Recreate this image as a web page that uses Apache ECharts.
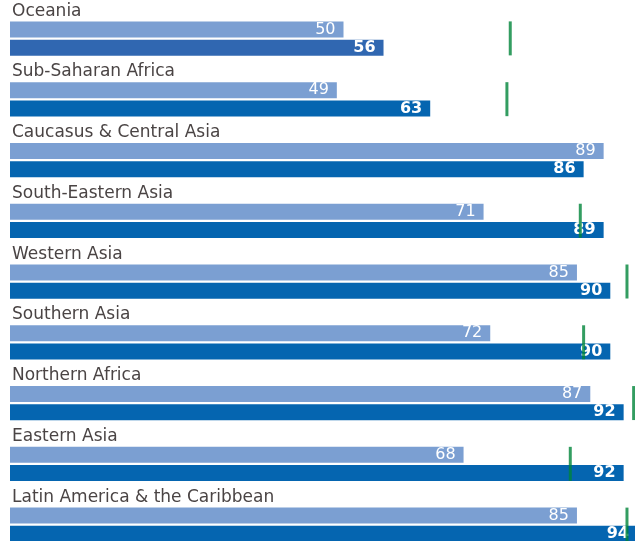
<!DOCTYPE html>
<html>
<head>
<meta charset="utf-8">
<script src="https://cdn.jsdelivr.net/npm/echarts@6/dist/echarts.min.js"></script>
<style>
  html, body { margin: 0; padding: 0; background: #fff; }
  #chart { width: 635px; height: 541px; }
</style>
</head>
<body>
<div id="chart"></div>
<script>
const regions = ['Oceania', 'Sub-Saharan Africa', 'Caucasus & Central Asia', 'South-Eastern Asia',
  'Western Asia', 'Southern Asia', 'Northern Africa', 'Eastern Asia', 'Latin America & the Caribbean'];
const values1990 = [50, 49, 89, 71, 85, 72, 87, 68, 85];
const values2008 = [56, 63, 86, 89, 90, 90, 92, 92, 94];
const targets = [75, 74.5, 94.5, 85.5, 92.5, 86, 93.5, 84, 92.5];

const chart = echarts.init(document.getElementById('chart'));

const valueLabel = {
  show: true,
  position: 'insideRight',
  distance: 8,
  color: '#fff',
  fontFamily: 'DejaVu Sans',
  fontSize: 16,
  fontWeight: 'bold'
};

chart.setOption({
  animation: false,
  // the plot runs past the right edge of the picture (0..100 over 667px)
  grid: { left: 10, width: 667, top: -1, height: 547, outerBoundsMode: 'none' },
  xAxis: { type: 'value', min: 0, max: 100, show: false },
  yAxis: { type: 'category', data: regions, inverse: true, show: false },
  series: [
    {
      // empty slot holding the region name
      name: 'names',
      type: 'bar',
      barWidth: 16,
      barGap: '14%',
      silent: true,
      data: regions.map(() => 0),
      itemStyle: { color: 'rgba(0,0,0,0)' },
      label: {
        show: true,
        position: 'right',
        distance: 2,
        formatter: '{b}',
        color: '#4a4444',
        fontFamily: 'DejaVu Sans',
        fontSize: 17
      }
    },
    {
      name: '1990',
      type: 'bar',
      barWidth: 16,
      barGap: '14%',
      data: values1990,
      itemStyle: { color: '#7b9fd2' },
      label: Object.assign({}, valueLabel, { fontWeight: 'normal' })
    },
    {
      name: '2008',
      type: 'bar',
      barWidth: 16,
      barGap: '14%',
      data: values2008,
      // Oceania's bar is a lighter shade in the original
      itemStyle: { color: p => (p.dataIndex === 0 ? '#3067b1' : '#0565b0') },
      label: valueLabel
    },
    {
      name: 'target',
      type: 'scatter',
      symbol: 'rect',
      symbolSize: [3, 34],
      symbolOffset: [0, 9],
      z: 5,
      data: regions.map((r, i) => [targets[i], r]),
      itemStyle: { color: '#00853a' }
    }
  ]
});
</script>
</body>
</html>
